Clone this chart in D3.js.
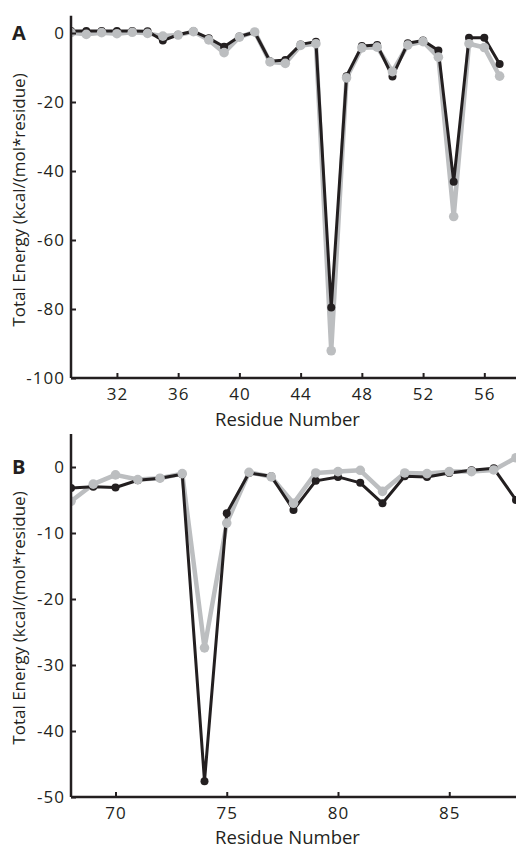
<!DOCTYPE html>
<html><head><meta charset="utf-8">
<script src="https://cdn.jsdelivr.net/npm/d3@7"></script>
<style>body{margin:0;background:#fff}svg{display:block}</style>
</head><body>
<svg id="c" width="516" height="849"></svg>
<script>
// Panel A data
const residuesA = [29,30,31,32,33,34,35,36,37,38,39,40,41,42,43,44,45,46,47,48,49,50,51,52,53,54,55,56,57];
const blackA = [0.6,0.6,0.6,0.6,0.6,0.5,-2.2,-0.5,0.5,-1.5,-4.0,-1.0,0.2,-8.2,-7.8,-3.3,-2.5,-79.6,-12.5,-3.8,-3.5,-12.6,-3.0,-2.2,-5.1,-43.1,-1.4,-1.4,-9.0];
const grayA  = [0.1,-0.4,0.1,-0.2,0.2,-0.1,-0.9,-0.6,0.4,-2.0,-5.7,-1.2,0.3,-8.4,-8.8,-3.6,-3.1,-92.1,-13.0,-4.3,-4.1,-11.2,-3.5,-2.5,-7.0,-53.2,-3.1,-4.2,-12.5];
const xTicksA = [32,36,40,44,48,52,56];
const yTicksA = [0,-20,-40,-60,-80,-100];

// Panel B data
const residuesB = [68,69,70,71,72,73,74,75,76,77,78,79,80,81,82,83,84,85,86,87,88];
const blackB = [-3.2,-3.0,-3.1,-2.0,-1.7,-1.1,-47.6,-7.0,-0.9,-1.4,-6.5,-2.1,-1.5,-2.4,-5.5,-1.4,-1.5,-0.9,-0.5,-0.2,-5.0];
const grayB  = [-5.2,-2.6,-1.2,-1.9,-1.7,-1.0,-27.4,-8.5,-0.8,-1.5,-5.5,-0.9,-0.7,-0.5,-3.7,-0.9,-1.0,-0.7,-0.7,-0.45,1.4];
const xTicksB = [70,75,80,85];
const yTicksB = [0,-10,-20,-30,-40,-50];

const yLabel = "Total Energy (kcal/(mol*residue)";
const xLabel = "Residue Number";

const svg = d3.select("#c");
const FONT = "'Open Sans', 'Noto Sans', sans-serif";
const BLACK = "#231f20", GRAY = "#bcbec0";

function panel(cfg){
  const g = svg.append("g");
  const x = d3.scaleLinear().domain(cfg.xDomain).range([cfg.left, cfg.right]);
  const y = d3.scaleLinear().domain(cfg.yDomain).range([cfg.bottom, cfg.top]);

  const clipId = "clip" + cfg.name;
  svg.append("clipPath").attr("id", clipId).append("rect")
    .attr("x", cfg.left).attr("y", cfg.top - 20).attr("width", cfg.right - cfg.left + 5).attr("height", cfg.bottom - cfg.top + 40);

  const plot = g.append("g").attr("clip-path", `url(#${clipId})`);
  const line = d3.line().x(d => x(d[0])).y(d => y(d[1]));
  const bd = cfg.res.map((r,i) => [r, cfg.black[i]]);
  const gd = cfg.res.map((r,i) => [r, cfg.gray[i]]);

  plot.append("path").datum(gd).attr("d", line).attr("fill","none").attr("stroke",GRAY).attr("stroke-width",4.5).attr("stroke-linejoin","round");
  plot.append("path").datum(bd).attr("d", line).attr("fill","none").attr("stroke",BLACK).attr("stroke-width",3).attr("stroke-linejoin","round");
  plot.selectAll(".bd").data(bd).join("circle").attr("cx", d=>x(d[0])).attr("cy", d=>y(d[1])).attr("r",4).attr("fill",BLACK);
  plot.selectAll(".gd").data(gd).join("circle").attr("cx", d=>x(d[0])).attr("cy", d=>y(d[1])).attr("r",4.8).attr("fill",GRAY);

  // axes
  const xa = g.append("g").attr("transform", `translate(0,${cfg.bottom})`)
    .call(d3.axisBottom(x).tickValues(cfg.xTicks).tickSize(-5).tickPadding(10).tickFormat(d3.format("d")));
  const ya = g.append("g").attr("transform", `translate(${cfg.left},0)`)
    .call(d3.axisLeft(y).tickValues(cfg.yTicks).tickSize(-5).tickPadding(6).tickFormat(d => d3.format("d")(d).replace("−","-")));
  [xa, ya].forEach(a => {
    a.select(".domain").attr("stroke", BLACK).attr("stroke-width", 2.5);
    a.selectAll(".tick line").attr("stroke", BLACK).attr("stroke-width", 2);
    a.selectAll("text").attr("fill", BLACK).style("font-family", FONT).style("font-size", "17px").style("letter-spacing","1px");
  });
  xa.select(".domain").attr("d", `M${cfg.left},0H${cfg.right}`);
  ya.select(".domain").attr("d", `M0,${cfg.top}V${cfg.bottom}`);
  ya.selectAll("text").attr("dy", "0.35em");

  g.append("text").attr("x", 287.5).attr("y", cfg.bottom + cfg.xlDy)
    .attr("text-anchor","middle").style("font-family", FONT).style("font-size","18.5px").attr("fill",BLACK).text(xLabel);
  g.append("text").attr("transform", `translate(25,${cfg.ylCenter}) rotate(-90)`)
    .attr("text-anchor","middle").style("font-family", FONT).style("font-size","17px").attr("fill",BLACK).text(yLabel);
  g.append("text").attr("x", 12).attr("y", cfg.letterY).style("font-family", FONT).style("font-weight","bold")
    .style("font-size","20px").attr("fill",BLACK).text(cfg.name);
}

panel({name:"A", res:residuesA, black:blackA, gray:grayA, xTicks:xTicksA, yTicks:yTicksA,
  xDomain:[29,58.07], yDomain:[-100,5], left:71, right:516, top:15.75, bottom:378, ylCenter:200, letterY:40, xlDy:48});
panel({name:"B", res:residuesB, black:blackB, gray:grayB, xTicks:xTicksB, yTicks:yTicksB,
  xDomain:[68,88], yDomain:[-50,5], left:71, right:516, top:434, bottom:797, ylCenter:618, letterY:474, xlDy:47});
</script>
</body></html>
